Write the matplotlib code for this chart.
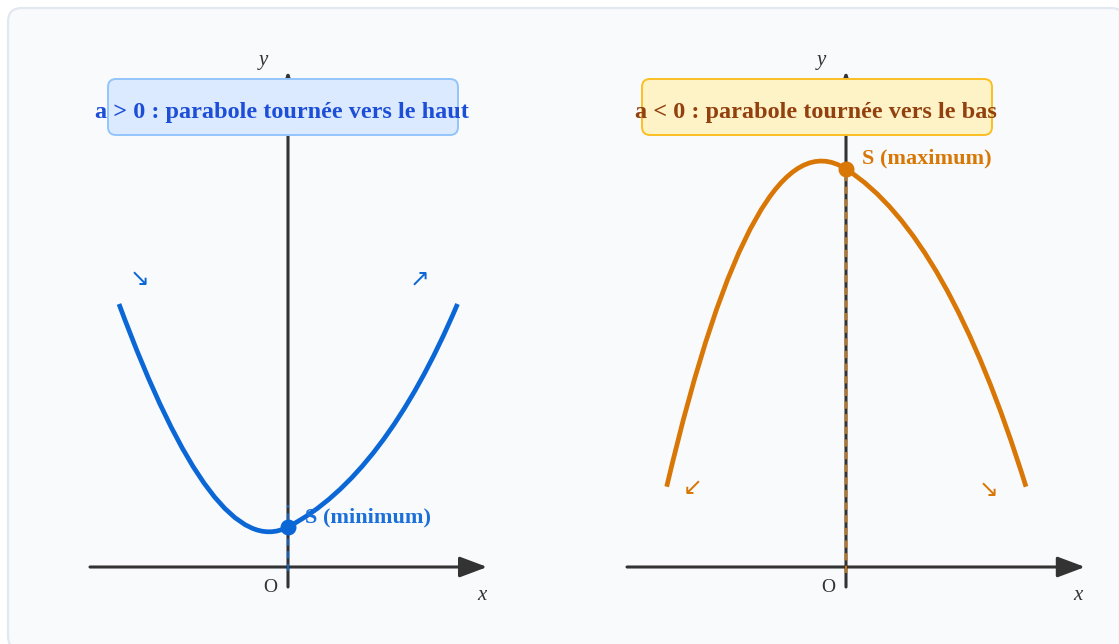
import matplotlib
matplotlib.use("Agg")
import matplotlib.pyplot as plt
from matplotlib.patches import FancyBboxPatch, PathPatch
from matplotlib.path import Path

SERIF = ["Liberation Serif", "DejaVu Serif"]

# each curve = two quadratic pieces joined at the vertex S
# (start, control, S, control, end) in math units
up_x = [-4.225, -1.825, 0.0, 2.405, 4.2375]
up_y = [6.575, 0.05, 1.0, 2.2525, 6.575]

down_x = [-4.4825, -2.275, 0.0, 2.54, 4.5]
down_y = [2.0075, 11.425, 9.95, 8.3275, 2.0075]

vertex_up = (0.0, 1.0)
vertex_down = (0.0, 9.95)

titles = ["a > 0 : parabole tournée vers le haut", "a < 0 : parabole tournée vers le bas"]
vertex_labels = ["S (minimum)", "S (maximum)"]
trend_arrows = [["↘", "↗"], ["↙", "↘"]]

BLUE = "#0b67d6"
ORANGE = "#d97706"
AXIS = "#333333"

W, H = 1119, 644
fig = plt.figure(figsize=(W / 100, H / 100), dpi=100)
fig.patch.set_facecolor("white")

# background card
bg = fig.add_axes([0, 0, 1, 1])
bg.set_xlim(0, W)
bg.set_ylim(H, 0)
bg.axis("off")
bg.add_patch(FancyBboxPatch((8, 8), W + 6 - 8, H + 6 - 8,
                            boxstyle="round,pad=0,rounding_size=14",
                            fc="#f8fafc", ec="#e2e8f0", lw=1.6))

SCALE = 40  # px per unit


def panel(ox, xlo, xhi):
    # axes placed so that the origin lands at pixel (ox, 567)
    ylo, yhi = -1.2, 13.3
    left = ox + xlo * SCALE
    width = (xhi - xlo) * SCALE
    bottom = H - (567 - ylo * SCALE)
    height = (yhi - ylo) * SCALE
    ax = fig.add_axes([left / W, bottom / H, width / W, height / H])
    ax.set_xlim(xlo, xhi)
    ax.set_ylim(ylo, yhi)
    ax.axis("off")
    return ax


def curve(ax, xs, ys, color):
    codes = [Path.MOVETO] + [Path.CURVE3] * (len(xs) - 1)
    p = Path(list(zip(xs, ys)), codes)
    ax.add_patch(PathPatch(p, fc="none", ec=color, lw=3.4, capstyle="butt", zorder=4))


def axes_arrows(ax, xa, xb):
    ap = dict(arrowstyle="-|>,head_length=1.2,head_width=0.45", lw=2.2,
              color=AXIS, mutation_scale=14, shrinkA=0, shrinkB=0)
    ax.annotate("", xy=(xb, 0), xytext=(xa, 0), arrowprops=ap, zorder=2)
    ax.annotate("", xy=(0, 12.4), xytext=(0, -0.5), arrowprops=ap, zorder=2)


def title_box(ax, x0, x1, text, fc, ec, tc):
    ax.add_patch(FancyBboxPatch((x0, 10.8), x1 - x0, 1.4,
                                boxstyle="round,pad=0,rounding_size=0.2",
                                fc=fc, ec=ec, lw=1.4, zorder=5))
    ax.text((x0 + x1) / 2 - 0.02, 11.36, text, ha="center", va="center",
            fontsize=17.5, fontweight="bold", color=tc, family=SERIF, zorder=6)


def labels(ax, xlab_x):
    ax.text(-0.62, 12.66, "y", ha="center", va="center", fontsize=15,
            style="italic", color=AXIS, family=SERIF)
    ax.text(xlab_x, -0.72, "x", ha="center", va="center", fontsize=15,
            style="italic", color=AXIS, family=SERIF)
    ax.text(-0.45, -0.5, "O", ha="center", va="center", fontsize=14,
            color=AXIS, family=SERIF)


# ---- left panel: a > 0
ax1 = panel(288, -6, 6)
axes_arrows(ax1, -4.95, 4.98)
ax1.plot([0, 0], [-0.1, 1.55], ls=(0, (4, 3)), lw=1.3, color=BLUE, zorder=3)
curve(ax1, up_x, up_y, BLUE)
ax1.plot(*vertex_up, "o", ms=10.5, color=BLUE, zorder=5)
ax1.text(0.42, 1.25, vertex_labels[0], ha="left", va="center", fontsize=16,
         fontweight="bold", color="#1a6fd8", family=SERIF, zorder=6)
ax1.text(-3.7, 7.2, trend_arrows[0][0], ha="center", va="center", fontsize=17, color=BLUE)
ax1.text(3.3, 7.22, trend_arrows[0][1], ha="center", va="center", fontsize=17, color=BLUE)
title_box(ax1, -4.5, 4.25, titles[0], "#dbeafe", "#93c5fd", "#1d4ed8")
labels(ax1, 4.85)

# ---- right panel: a < 0
ax2 = panel(846, -6.5, 6.5)
axes_arrows(ax2, -5.475, 5.975)
ax2.plot([0, 0], [-0.15, 9.95], ls=(0, (4, 3)), lw=1.3, color=ORANGE, zorder=3)
curve(ax2, down_x, down_y, ORANGE)
ax2.plot(*vertex_down, "o", ms=10.5, color=ORANGE, zorder=5)
ax2.text(0.4, 10.22, vertex_labels[1], ha="left", va="center", fontsize=16,
         fontweight="bold", color=ORANGE, family=SERIF, zorder=6)
ax2.text(-3.825, 1.975, trend_arrows[1][0], ha="center", va="center", fontsize=17, color=ORANGE)
ax2.text(3.575, 1.925, trend_arrows[1][1], ha="center", va="center", fontsize=17, color=ORANGE)
title_box(ax2, -5.1, 3.65, titles[1], "#fef3c7", "#fbbf24", "#92400e")
labels(ax2, 5.8)

fig.savefig("out.png", dpi=100, facecolor=fig.get_facecolor())
